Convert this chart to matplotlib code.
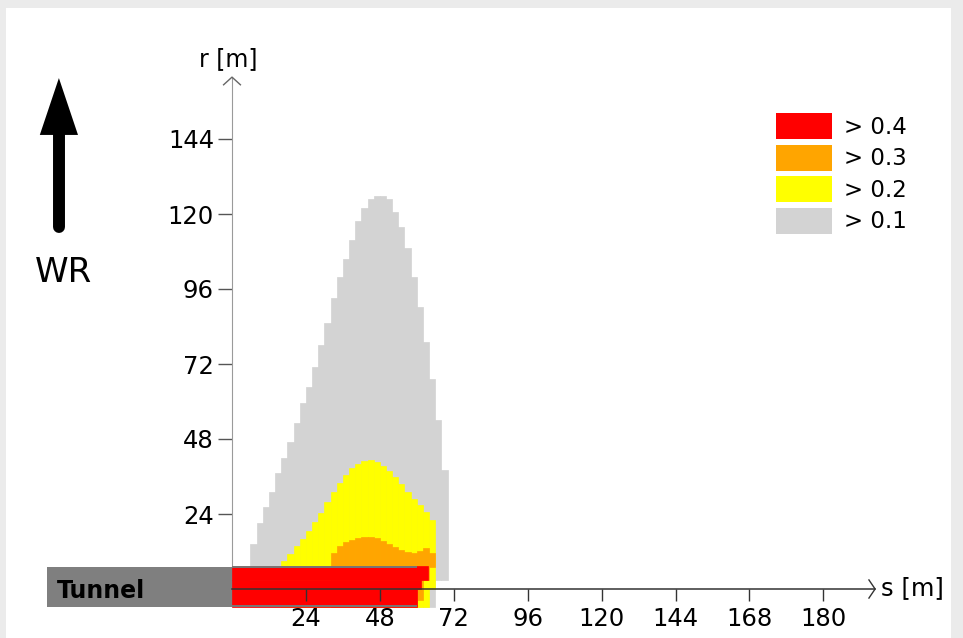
import matplotlib
matplotlib.use('Agg')
import matplotlib.pyplot as plt
from matplotlib.patches import Patch, Rectangle

# ---------------- data ----------------
# concentration field, 2 m wide columns (left edge s [m]), top / bottom r [m]
gray_s = [6, 8, 10, 12, 14, 16, 18, 20, 22, 24, 26, 28, 30, 32, 34, 36,
          38, 40, 42, 44, 46, 48, 50, 52, 54, 56, 58, 60, 62, 64, 66, 68]
gray_top = [14.4, 21.1, 26.2, 31.0, 37.1, 41.9, 47.0, 53.1, 59.5, 64.6, 71.0, 78.1,
            85.1, 93.1, 99.8, 105.6, 111.7, 117.8, 121.9, 124.8, 125.8, 125.8, 124.8,
            120.6, 115.8, 109.1, 99.8, 90.2, 79.0, 67.2, 54.1, 38.1]
gray_bottom = [-5.8, -5.8, -5.8, -5.8, -5.8, -5.8, -5.8, -5.8, -5.8, -5.8, -5.8, -5.8,
               -5.8, -5.8, -5.8, -5.8, -5.8, -5.8, -5.8, -5.8, -5.8, -5.8, -5.8, -5.8,
               -5.8, -5.8, -5.8, -5.8, -5.8, -5.8, 2.9, 2.9]

yellow_s = [16, 18, 20, 22, 24, 26, 28, 30, 32, 34, 36, 38, 40, 42, 44, 46,
            48, 50, 52, 54, 56, 58, 60, 62, 64]
yellow_top = [9.1, 11.1, 13.7, 16.1, 18.5, 21.3, 24.3, 27.8, 30.9, 33.9, 36.4, 38.7,
              40.1, 40.9, 41.3, 40.7, 39.4, 37.7, 35.9, 33.6, 31.1, 28.8, 26.9, 24.6, 22.2]
yellow_bottom = [-5.8, -5.8, -5.8, -5.8, -5.8, -5.8, -5.8, -5.8, -5.8, -5.8, -5.8, -5.8,
                 -5.8, -5.8, -5.8, -5.8, -5.8, -5.8, -5.8, -5.8, -5.8, -5.8, -5.8, -5.8, 0.0]

orange_s = [32, 34, 36, 38, 40, 42, 44, 46, 48, 50, 52, 54, 56, 58, 60, 62, 64]
orange_top = [11.5, 13.8, 15.0, 15.8, 16.3, 16.6, 16.6, 16.2, 15.5, 14.5, 13.5, 12.5,
              11.7, 11.4, 12.2, 13.0, 11.5]
orange_bottom = [-5.8, -5.8, -5.8, -5.8, -5.8, -5.8, -5.8, -5.8, -5.8, -5.8, -5.8, -5.8,
                 -5.8, -5.8, -3.5, 3.0, 7.0]

# red (> 0.4) region given as spans
red_s_from = [0, 0, 0]
red_s_to = [63.5, 61.5, 60.0]
red_r_from = [3.0, 0.0, -5.8]
red_r_to = [7.4, 3.0, 0.0]

# tunnel extent
tunnel_s = (-60, 60)
tunnel_r = (-5.8, 7.2)

level_labels = ['> 0.4', '> 0.3', '> 0.2', '> 0.1']
level_colors = ['#ff0000', '#ffa500', '#ffff00', '#d3d3d3']

x_ticks = [24, 48, 72, 96, 120, 144, 168, 192]
x_tick_labels = ['24', '48', '72', '96', '120', '144', '168', '180']
y_ticks = [24, 48, 72, 96, 120, 144]
y_tick_labels = ['24', '48', '72', '96', '120', '144']

# ---------------- layout ----------------
plt.rcParams['font.family'] = ['DejaVu Sans']
W, H = 963, 638
PX_S, PX_R = 3.08, 3.125          # pixels per metre
OX, OY = 232, 589                 # origin in pixels (from top-left)
L, R, T, B = 6, 951, 8, 638       # white panel in pixels

fig = plt.figure(figsize=(W / 100, H / 100), dpi=100, facecolor='#ebebeb')
ax = fig.add_axes([L / W, 1 - B / H, (R - L) / W, (B - T) / H])
ax.set_facecolor('white')
ax.set_xlim((L - OX) / PX_S, (R - OX) / PX_S)
ax.set_ylim((OY - B) / PX_R, (OY - T) / PX_R)


def cols(s, top, bottom, color, z):
    ax.bar(s, [t - b for t, b in zip(top, bottom)], bottom=bottom, width=2,
           align='edge', color=color, edgecolor=color, linewidth=0.5, zorder=z)


# tunnel fill
ax.add_patch(Rectangle((tunnel_s[0], tunnel_r[0]), tunnel_s[1] - tunnel_s[0],
                       tunnel_r[1] - tunnel_r[0], facecolor='#7f7f7f',
                       edgecolor='none', zorder=2.8))

cols(gray_s, gray_top, gray_bottom, level_colors[3], 3.0)
cols(yellow_s, yellow_top, yellow_bottom, level_colors[2], 3.1)
cols(orange_s, orange_top, orange_bottom, level_colors[1], 3.2)
ax.bar(red_s_from, [b - a for a, b in zip(red_r_from, red_r_to)], bottom=red_r_from,
       width=[b - a for a, b in zip(red_s_from, red_s_to)], align='edge',
       color=level_colors[0], edgecolor=level_colors[0], linewidth=0.5, zorder=3.3)

# tunnel outline (top and bottom edges over the red area)
ax.hlines([tunnel_r[1], tunnel_r[0] + 0.3], 0, tunnel_s[1], colors='#777777',
          linewidth=1.4, zorder=3.4)
ax.text(-56.8, -2.9, 'Tunnel', ha='left', va='baseline', fontsize=17,
        fontweight='heavy', color='black', zorder=5)

# axes
for sp in ['top', 'right']:
    ax.spines[sp].set_visible(False)
ax.spines['left'].set_position(('data', 0))
ax.spines['left'].set_bounds(0, 163.8)
ax.spines['left'].set_color('#9a9a9a')
ax.spines['left'].set_zorder(2)
ax.spines['bottom'].set_position(('data', 0))
ax.spines['bottom'].set_bounds(0, 208.8)
ax.spines['bottom'].set_color('#333333')
ax.spines['bottom'].set_linewidth(1.1)
ax.spines['bottom'].set_zorder(6)
ax.xaxis.set_zorder(6)

ax.plot([-2.9, 0, 2.9], [161.2, 163.8, 161.2], color='#666666', lw=1.0, zorder=6,
        solid_capstyle='butt')
ax.plot([206.8, 208.8, 206.8], [2.9, 0, -2.9], color='#333333', lw=1.0, zorder=6)

ax.set_xticks(x_ticks)
ax.set_xticklabels(x_tick_labels, fontsize=17.5)
ax.set_yticks(y_ticks)
ax.set_yticklabels(y_tick_labels, fontsize=17.5)
ax.tick_params(axis='x', direction='out', length=8.6, width=1.0, color='#333333', pad=4.5)
ax.tick_params(axis='y', direction='out', length=10, width=1.0, color='#555555', pad=3)

ax.text(-1.3, 167.4, 'r [m]', ha='center', va='baseline', fontsize=17)
ax.text(210.7, -1.9, 's [m]', ha='left', va='baseline', fontsize=17.5)

# wind direction arrow
ax.plot([-56.2, -56.2], [115.8, 146.5], color='black', lw=8.6, solid_capstyle='round',
        zorder=5)
ax.fill([-62.4, -50.0, -56.2], [145.3, 145.3, 163.5], color='black', zorder=5, lw=0)
ax.text(-54.7, 98.2, 'WR', ha='center', va='baseline', fontsize=24.5)

# legend
handles = [Patch(facecolor=c, edgecolor='none') for c in level_colors]
ax.legend(handles, level_labels, loc='upper left',
          bbox_to_anchor=(776 / W, 1 - 113 / H), bbox_transform=fig.transFigure,
          frameon=False, fontsize=16.5, handlelength=2.45, handleheight=1.4,
          labelspacing=0.22, handletextpad=0.5, borderpad=0, borderaxespad=0)

fig.savefig('out.png', dpi=100, facecolor=fig.get_facecolor())
